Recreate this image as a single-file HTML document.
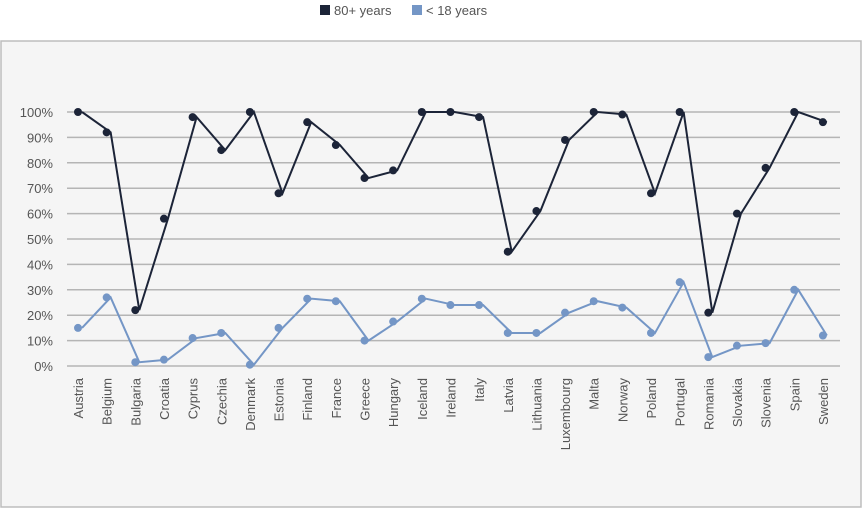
<!DOCTYPE html>
<html><head><meta charset="utf-8"><style>
body{margin:0;background:#fff;width:863px;height:508px;overflow:hidden;font-family:"Liberation Sans",sans-serif}
</style></head><body>
<svg id="s" width="863" height="508" xmlns="http://www.w3.org/2000/svg" font-family="Liberation Sans, sans-serif">
<rect x="1" y="41" width="860" height="466" fill="#f5f5f5" stroke="#bdbdbd" stroke-width="1.5"/>
<rect x="320" y="5" width="10" height="10" fill="#1c2438"/>
<text x="334" y="15" font-size="13" fill="#555">80+ years</text>
<rect x="412" y="5" width="10" height="10" fill="#7496c6"/>
<text x="426" y="15" font-size="13" fill="#555">&lt; 18 years</text>
<g id="g"></g>
</svg>
<script>
var c=["Austria","Belgium","Bulgaria","Croatia","Cyprus","Czechia","Denmark","Estonia","Finland","France","Greece","Hungary","Iceland","Ireland","Italy","Latvia","Lithuania","Luxembourg","Malta","Norway","Poland","Portugal","Romania","Slovakia","Slovenia","Spain","Sweden"];
var a=[100,92,22,58,98,85,100,68,96,87,74,77,100,100,98,45,61,89,100,99,68,100,21,60,78,100,96];
var b=[15,27,1.5,2.5,11,13,0.5,15,26.5,25.5,10,17.5,26.5,24,24,13,13,21,25.5,23,13,33,3.5,8,9,30,12];
var h="";
for(var i=0;i<=10;i++){var y=366-i*25.4;h+='<line x1="67" x2="840" y1="'+y+'" y2="'+y+'" stroke="#b5b5b5" stroke-width="1.5"/><text x="53" y="'+(y+5)+'" font-size="13" fill="#555" text-anchor="end">'+(i*10)+'%</text>';}
function X(i){return 78+i*28.65}function Y(v){return 366-v*2.54}
[[b,"#7496c6"],[a,"#1c2438"]].forEach(function(s){var p="";s[0].forEach(function(v,i){p+=(X(i)+4)+","+Y(v)+" "});
h+='<polyline points="'+p+'" fill="none" stroke="'+s[1]+'" stroke-width="2"/>';
s[0].forEach(function(v,i){h+='<circle cx="'+X(i)+'" cy="'+Y(v)+'" r="4" fill="'+s[1]+'"/>'});});
c.forEach(function(n,i){var x=X(i)+5;h+='<text transform="translate('+x+',378) rotate(-90)" font-size="13" fill="#555" text-anchor="end">'+n+'</text>'});
document.getElementById("g").innerHTML=h;
</script>
</body></html>
